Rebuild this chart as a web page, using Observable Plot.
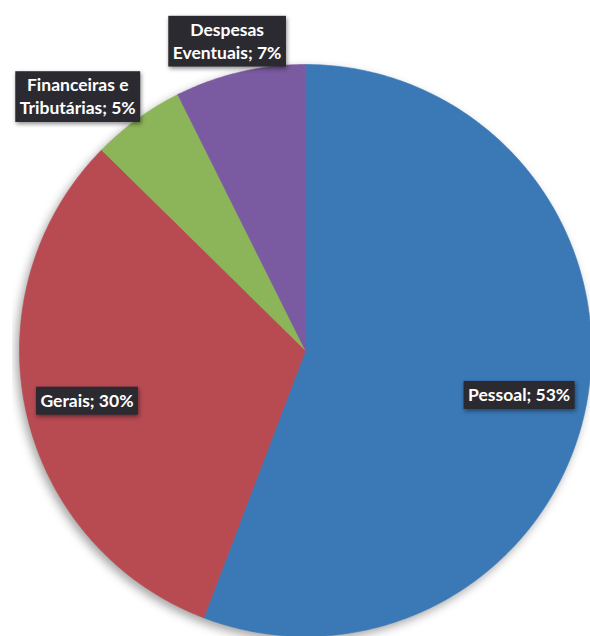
<!DOCTYPE html>
<html>
<head>
<meta charset="utf-8">
<script src="https://cdn.jsdelivr.net/npm/d3@7"></script>
<script src="https://cdn.jsdelivr.net/npm/@observablehq/plot@0.6"></script>
<style>
  html, body { margin: 0; padding: 0; background: #ffffff; }
  #wrap { position: absolute; left: 12px; top: 0; width: 578px; height: 636px; overflow: hidden; }
  #wrap svg { overflow: hidden; }
  .slices { filter: drop-shadow(-3px 4px 5px rgba(0,0,0,0.35)); }
  .lblbox { filter: drop-shadow(1px 2px 2px rgba(0,0,0,0.45)); }
</style>
</head>
<body>
<div id="wrap"></div>
<script>
// ---- data ----
const categories = ["Pessoal", "Gerais", "Financeiras e Tributárias", "Despesas Eventuais"];
const values = [53, 30, 5, 7];
const labelTexts = ["Pessoal; 53%", "Gerais; 30%", "Financeiras e\nTributárias; 5%", "Despesas\nEventuais; 7%"];
const colors = ["#3a78b6", "#b84a52", "#8cb458", "#7a5aa0"];

// ---- layout (style, not data) ----
const W = 578, H = 636;
const cx = 293, cy = 350, R = 286;
const labelPlacement = [
  {r: 0.762, da: 1},
  {r: 0.783, da: -0.3},
  {r: 1.196, da: -5.75},
  {r: 1.12, da: -0.9}
];

const table = categories.map((c, i) => ({name: c, value: values[i], label: labelTexts[i]}));
const arcs = d3.pie().sort(null).value(d => d.value)(table);

// polygon points of each slice in unit-circle data space
const pts = [];
arcs.forEach(a => {
  const name = a.data.name;
  pts.push({name, x: 0, y: 0});
  const n = Math.max(8, Math.ceil((a.endAngle - a.startAngle) / 0.01));
  for (let k = 0; k <= n; k++) {
    const t = a.startAngle + (a.endAngle - a.startAngle) * k / n;
    pts.push({name, x: Math.sin(t), y: Math.cos(t)});
  }
});

const labels = arcs.map((a, i) => {
  const p = labelPlacement[i];
  const m = (a.startAngle + a.endAngle) / 2 + p.da * Math.PI / 180;
  return {text: a.data.label, x: p.r * Math.sin(m), y: p.r * Math.cos(m)};
});

const chart = Plot.plot({
  width: W,
  height: H,
  margin: 0,
  x: {domain: [-1, 1], range: [cx - R, cx + R], axis: null},
  y: {domain: [-1, 1], range: [cy + R, cy - R], axis: null},
  color: {domain: categories, range: colors},
  style: {background: "transparent"},
  marks: [
    Plot.line(pts, {x: "x", y: "y", z: "name", fill: "name", stroke: "name", strokeWidth: 0.6, curve: "linear-closed", className: "slices"}),
    Plot.text(labels, {x: "x", y: "y", text: "text", fill: "white", fontWeight: "bold", fontSize: 17.5, fontFamily: "Lato, 'Open Sans', sans-serif", lineHeight: 1.3, className: "lbls"})
  ]
});
document.getElementById("wrap").append(chart);

// dark label boxes behind each label text
chart.querySelectorAll(".lbls text").forEach(t => {
  const b = t.getBBox();
  const padX = 4.5, padY = 4;
  const rect = document.createElementNS("http://www.w3.org/2000/svg", "rect");
  rect.setAttribute("x", b.x - padX);
  rect.setAttribute("y", b.y - padY + 1);
  rect.setAttribute("width", b.width + 2 * padX);
  rect.setAttribute("height", b.height + 2 * padY - 1);
  rect.setAttribute("fill", "#2b2a31");
  rect.setAttribute("class", "lblbox");
  if (t.getAttribute("transform")) rect.setAttribute("transform", t.getAttribute("transform"));
  t.parentNode.insertBefore(rect, t);
});
</script>
</body>
</html>
